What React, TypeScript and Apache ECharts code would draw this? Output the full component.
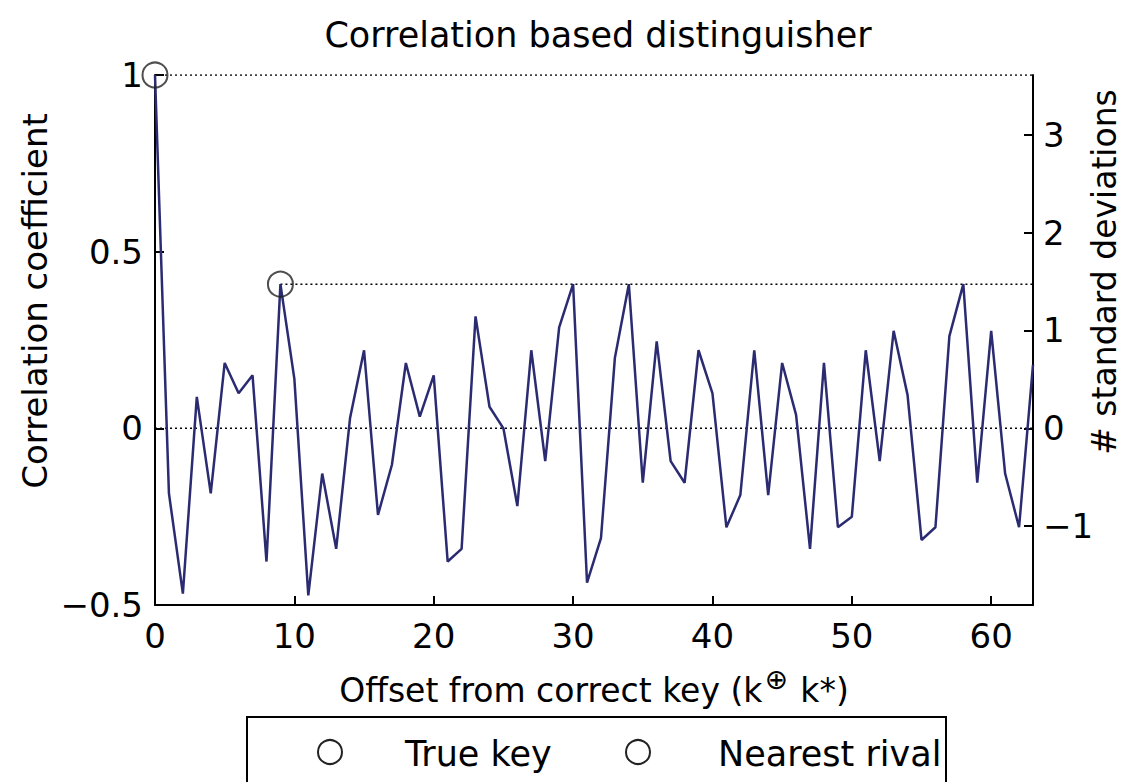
import React, { useEffect, useRef } from "react";
import * as echarts from "echarts";

// Offsets from the correct key (k XOR k*)
const offsets: number[] = Array.from({ length: 64 }, (_, i) => i);

// Correlation coefficient for each offset
const correlation: number[] = [
  1.0, -0.184, -0.468, 0.089, -0.184, 0.185, 0.099, 0.15, -0.377, 0.408,
  0.14, -0.473, -0.128, -0.341, 0.03, 0.221, -0.245, -0.103, 0.185, 0.033,
  0.15, -0.377, -0.341, 0.317, 0.061, 0.0, -0.22, 0.221, -0.093, 0.286,
  0.408, -0.437, -0.311, 0.2, 0.408, -0.154, 0.246, -0.093, -0.154, 0.221,
  0.099, -0.28, -0.189, 0.221, -0.189, 0.185, 0.038, -0.341, 0.185, -0.28,
  -0.25, 0.221, -0.093, 0.276, 0.094, -0.316, -0.28, 0.261, 0.408, -0.154,
  0.276, -0.128, -0.28, 0.18,
];

const xTicks = [0, 10, 20, 30, 40, 50, 60];
const leftTicks = [-0.5, 0, 0.5, 1];
const rightTicks = [-1, 0, 1, 2, 3];
const corrPerStd = 0.277; // one standard deviation in correlation units

const FONT = "DejaVu Sans";

export default function App() {
  const ref = useRef<HTMLDivElement>(null);

  useEffect(() => {
    if (!ref.current) return;
    const chart = echarts.init(ref.current, undefined, { renderer: "svg" });

    const xMax = offsets[offsets.length - 1];
    const lineData = offsets.map((x, i) => [x, correlation[i]]);
    // true key at offset 0, nearest rival = highest among the others
    let rivalIdx = 1;
    for (let i = 1; i < correlation.length; i++) {
      if (correlation[i] > correlation[rivalIdx]) rivalIdx = i;
    }
    const trueKey = [offsets[0], correlation[0]];
    const rival = [offsets[rivalIdx], correlation[rivalIdx]];

    const fmtMinus = (v: number) => (v < 0 ? "\u2212" + Math.abs(v) : String(v));
    const dotted = { color: "#000", width: 1.5, type: [2, 3] as any };

    chart.setOption({
      animation: false,
      backgroundColor: "#fff",
      title: {
        text: "Correlation based distinguisher",
        left: 593,
        textAlign: "center",
        top: 12,
        textStyle: { fontFamily: FONT, fontSize: 35, fontWeight: "normal", color: "#000" },
      },
      grid: { left: 155, right: 91, top: 75, bottom: 177, containLabel: false },
      xAxis: {
        type: "value",
        min: 0,
        max: xMax,
        name: "Offset from correct key (k{sup|\u2295} k*)",
        nameLocation: "middle",
        nameGap: 60,
        nameTextStyle: {
          fontFamily: FONT,
          fontSize: 33,
          color: "#000",
          rich: {
            sup: { fontFamily: FONT, fontSize: 28, color: "#000", padding: [0, 2, 22, 2] },
          },
        },
        axisLine: { show: true, onZero: false, lineStyle: { color: "#000", width: 2 } },
        axisTick: { show: true, inside: true, length: 9, lineStyle: { color: "#000", width: 2 }, customValues: xTicks },
        axisLabel: { fontFamily: FONT, fontSize: 34, color: "#000", margin: 14, customValues: xTicks },
        splitLine: { show: false },
      },
      yAxis: [
        {
          type: "value",
          min: -0.5,
          max: 1,
          interval: 0.5,
          position: "left",
          axisLine: { show: true, onZero: false, lineStyle: { color: "#000", width: 2 } },
          axisTick: { show: true, inside: true, length: 9, lineStyle: { color: "#000", width: 2 }, customValues: leftTicks },
          axisLabel: { fontFamily: FONT, fontSize: 34, color: "#000", margin: 12, formatter: fmtMinus, customValues: leftTicks },
          splitLine: { show: false },
        },
        {
          type: "value",
          min: -0.5 / corrPerStd,
          max: 1 / corrPerStd,
          position: "right",
          axisLine: { show: true, onZero: false, lineStyle: { color: "#000", width: 2 } },
          axisTick: { show: true, inside: true, length: 9, lineStyle: { color: "#000", width: 2 }, customValues: rightTicks },
          axisLabel: { fontFamily: FONT, fontSize: 34, color: "#000", margin: 10, formatter: fmtMinus, customValues: rightTicks },
          splitLine: { show: false },
        },
      ],
      series: [
        {
          type: "line",
          name: "zero",
          data: [[offsets[0], 0], [xMax, 0]],
          symbol: "none",
          lineStyle: dotted,
          silent: true,
          z: 1,
        },
        {
          type: "line",
          name: "true level",
          data: [trueKey, [xMax, trueKey[1]]],
          symbol: "none",
          lineStyle: dotted,
          silent: true,
          z: 1,
        },
        {
          type: "line",
          name: "rival level",
          data: [rival, [xMax, rival[1]]],
          symbol: "none",
          lineStyle: dotted,
          silent: true,
          z: 1,
        },
        {
          type: "line",
          name: "Correlation",
          data: lineData,
          symbol: "none",
          lineStyle: { color: "#2b2b72", width: 2.5 },
          z: 2,
        },
        {
          type: "scatter",
          name: "True key",
          data: [trueKey],
          symbol: "circle",
          symbolSize: 25,
          itemStyle: { color: "rgba(0,0,0,0)", borderColor: "#222", borderWidth: 2 },
          z: 3,
        },
        {
          type: "scatter",
          name: "Nearest rival",
          data: [rival],
          symbol: "circle",
          symbolSize: 25,
          itemStyle: { color: "rgba(0,0,0,0)", borderColor: "#222", borderWidth: 2 },
          z: 3,
        },
      ],
      graphic: [
        {
          type: "text",
          x: 35,
          y: 301,
          rotation: Math.PI / 2,
          style: {
            text: "Correlation coefficient",
            fontFamily: FONT,
            fontSize: 34,
            fill: "#000",
            align: "center",
            verticalAlign: "middle",
          },
        },
        {
          type: "text",
          x: 1104,
          y: 272,
          rotation: Math.PI / 2,
          style: {
            text: "# standard deviations",
            fontFamily: FONT,
            fontSize: 33,
            fill: "#000",
            align: "center",
            verticalAlign: "middle",
          },
        },
        {
          type: "group",
          children: [
            {
              type: "rect",
              shape: { x: 247, y: 717, width: 699, height: 100 },
              style: { fill: "#fff", stroke: "#000", lineWidth: 2 },
            },
            {
              type: "circle",
              shape: { cx: 330, cy: 752, r: 12 },
              style: { fill: "none", stroke: "#222", lineWidth: 2 },
            },
            {
              type: "text",
              x: 405,
              y: 754,
              style: { text: "True key", fontFamily: FONT, fontSize: 35, fill: "#000", align: "left", verticalAlign: "middle" },
            },
            {
              type: "circle",
              shape: { cx: 638, cy: 752, r: 12 },
              style: { fill: "none", stroke: "#222", lineWidth: 2 },
            },
            {
              type: "text",
              x: 718,
              y: 754,
              style: { text: "Nearest rival", fontFamily: FONT, fontSize: 35, fill: "#000", align: "left", verticalAlign: "middle" },
            },
          ],
        },
      ],
    });

    return () => chart.dispose();
  }, []);

  return (
    <div
      ref={ref}
      style={{ position: "fixed", left: 0, top: 0, width: 1124, height: 782, background: "#fff" }}
    />
  );
}
